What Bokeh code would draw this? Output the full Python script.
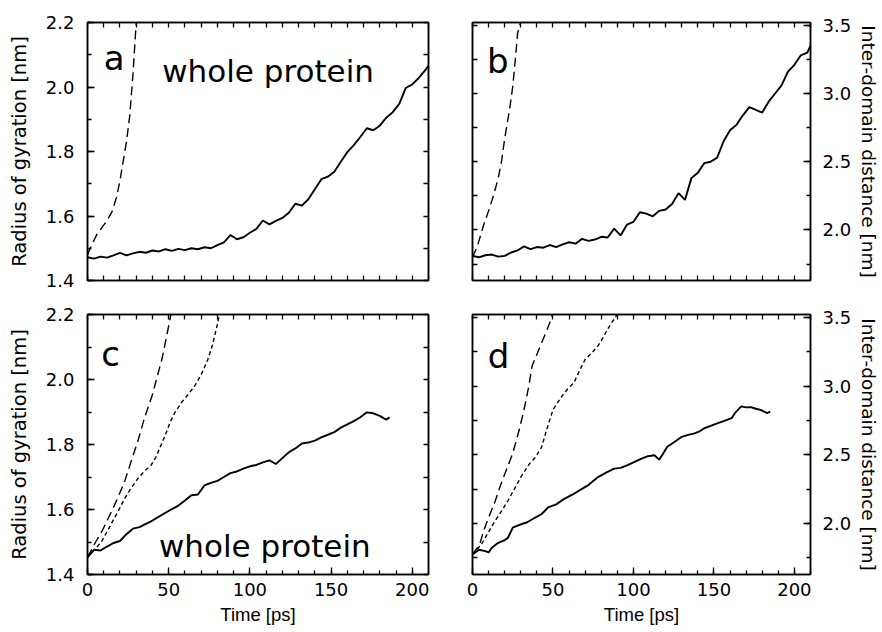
from bokeh.plotting import figure
from bokeh.models import Range1d, LinearAxis, FixedTicker, Label, PrintfTickFormatter
from bokeh.layouts import gridplot
from bokeh.embed import file_html
from bokeh.resources import INLINE

# ---------------- data ----------------
# panel a: radius of gyration (whole protein)
a_solid_t = [0, 4, 8, 12, 16, 20, 24, 28, 32, 36, 40, 44, 48, 52, 56, 60, 64, 68, 72, 76, 80, 84, 88, 92, 96,
             100, 104, 108, 112, 116, 120, 124, 128, 132, 136, 140, 144, 148, 152, 156, 160, 164, 168, 172, 176,
             180, 184, 188, 192, 196, 200, 204, 208, 210]
a_solid_y = [1.472, 1.468, 1.474, 1.471, 1.478, 1.486, 1.478, 1.484, 1.489, 1.486, 1.493, 1.490, 1.497, 1.492,
             1.498, 1.494, 1.500, 1.497, 1.503, 1.500, 1.510, 1.518, 1.541, 1.528, 1.534, 1.548, 1.560, 1.586,
             1.574, 1.585, 1.594, 1.610, 1.638, 1.632, 1.652, 1.683, 1.714, 1.722, 1.737, 1.768, 1.798, 1.820,
             1.845, 1.872, 1.866, 1.880, 1.905, 1.922, 1.948, 1.997, 2.008, 2.028, 2.052, 2.066]
a_dash_t = [0, 3, 6, 9, 12, 15, 18, 20, 22, 24, 26, 28, 30, 31]
a_dash_y = [1.48, 1.515, 1.545, 1.565, 1.586, 1.612, 1.66, 1.71, 1.77, 1.83, 1.91, 2.04, 2.20, 2.26]

# panel b: inter-domain distance
b_solid_t = [0, 4, 8, 12, 16, 20, 24, 28, 32, 36, 40, 44, 48, 52, 56, 60, 64, 68, 72, 76, 80, 84, 88, 92, 96,
             100, 104, 108, 112, 116, 120, 124, 128, 132, 136, 140, 144, 148, 152, 156, 160, 164, 168, 172, 176,
             180, 184, 188, 192, 196, 200, 204, 208, 210]
b_solid_y = [1.81, 1.80, 1.815, 1.82, 1.805, 1.81, 1.835, 1.85, 1.88, 1.86, 1.875, 1.87, 1.89, 1.875, 1.895,
             1.91, 1.90, 1.935, 1.92, 1.93, 1.95, 1.945, 2.01, 1.96, 2.04, 2.06, 2.13, 2.12, 2.10, 2.14, 2.15,
             2.19, 2.27, 2.22, 2.38, 2.42, 2.49, 2.50, 2.53, 2.65, 2.73, 2.77, 2.84, 2.90, 2.88, 2.86, 2.94,
             3.00, 3.06, 3.16, 3.21, 3.28, 3.30, 3.35]
b_dash_t = [0, 3, 7, 10, 13, 16, 18, 20, 23, 25, 27, 28, 30]
b_dash_y = [1.80, 1.88, 2.04, 2.14, 2.25, 2.38, 2.50, 2.67, 2.88, 3.05, 3.30, 3.44, 3.53]

# panel c: radius of gyration
c_solid_t = [0, 4, 8, 12, 16, 20, 24, 28, 32, 36, 40, 44, 48, 52, 56, 60, 64, 68, 72, 76, 80, 84, 88, 92, 96,
             100, 104, 108, 112, 116, 120, 124, 128, 132, 136, 140, 144, 148, 152, 156, 160, 164, 168, 172, 176,
             180, 184, 186]
c_solid_y = [1.453, 1.476, 1.474, 1.486, 1.497, 1.503, 1.524, 1.541, 1.546, 1.556, 1.566, 1.578, 1.590, 1.601,
             1.612, 1.628, 1.644, 1.646, 1.674, 1.682, 1.688, 1.700, 1.712, 1.717, 1.726, 1.733, 1.737, 1.745,
             1.751, 1.740, 1.758, 1.776, 1.788, 1.803, 1.806, 1.812, 1.822, 1.830, 1.838, 1.852, 1.862, 1.872,
             1.884, 1.899, 1.896, 1.888, 1.876, 1.884]
c_long_t = [0, 5, 9, 15, 19, 23, 27, 31, 35, 40, 43, 46, 49, 51, 52]
c_long_y = [1.453, 1.50, 1.534, 1.596, 1.64, 1.688, 1.75, 1.81, 1.88, 1.954, 2.01, 2.066, 2.14, 2.19, 2.22]
c_short_t = [0, 5, 9, 14, 19, 23, 27, 31, 35, 39, 42, 45, 48, 51, 54, 58, 62, 66, 70, 74, 77, 80, 82]
c_short_y = [1.453, 1.48, 1.504, 1.55, 1.596, 1.635, 1.667, 1.695, 1.718, 1.735, 1.76, 1.795, 1.83, 1.87, 1.90,
             1.93, 1.954, 1.98, 2.015, 2.06, 2.107, 2.17, 2.22]

# panel d: inter-domain distance
d_solid_t = [0, 4, 8, 10, 12, 16, 20, 22, 25, 28, 30, 34, 39, 43, 47, 52, 57, 62, 68, 72, 78, 83, 88, 92, 96,
             100, 105, 109, 113, 116, 118, 121, 125, 130, 134, 138, 141, 144, 148, 152, 156, 161, 163, 167, 170,
             173, 176, 179, 183, 185]
d_solid_y = [1.775, 1.81, 1.80, 1.79, 1.824, 1.86, 1.88, 1.897, 1.97, 1.985, 1.995, 2.01, 2.044, 2.07, 2.118,
             2.14, 2.18, 2.21, 2.252, 2.28, 2.338, 2.37, 2.40, 2.405, 2.423, 2.445, 2.472, 2.49, 2.497, 2.465,
             2.50, 2.558, 2.59, 2.631, 2.645, 2.656, 2.67, 2.693, 2.71, 2.729, 2.745, 2.766, 2.803, 2.852, 2.845,
             2.847, 2.835, 2.827, 2.803, 2.815]
d_long_t = [0, 4.5, 7, 10, 14, 17, 21, 25, 29, 32, 35, 37, 40, 43, 46, 49, 50]
d_long_y = [1.775, 1.85, 1.95, 2.044, 2.16, 2.265, 2.39, 2.51, 2.68, 2.827, 3.0, 3.145, 3.23, 3.317, 3.40,
            3.49, 3.54]
d_short_t = [0, 5.6, 10, 14, 18, 22, 26, 30, 35.5, 39, 43, 46, 50, 54, 57, 60, 63, 66, 70, 74, 78, 81, 84, 87,
             89, 90]
d_short_y = [1.775, 1.85, 1.94, 2.02, 2.09, 2.166, 2.25, 2.338, 2.436, 2.48, 2.558, 2.68, 2.827, 2.90, 2.95,
             2.99, 3.023, 3.10, 3.194, 3.24, 3.292, 3.35, 3.414, 3.47, 3.50, 3.54]

# ticks
x_major = [0, 50, 100, 150, 200]
x_minor = [0, 10, 20, 30, 40, 50, 60, 70, 80, 90, 100, 110, 120, 130, 140, 150, 160, 170, 180, 190, 200, 210]
rg_major = [1.4, 1.6, 1.8, 2.0, 2.2]
rg_minor = [1.4, 1.5, 1.6, 1.7, 1.8, 1.9, 2.0, 2.1, 2.2]
dist_major = [2.0, 2.5, 3.0, 3.5]
dist_minor = [1.75, 2.0, 2.25, 2.5, 2.75, 3.0, 3.25, 3.5]

x_label = "Time [ps]"
rg_label = "Radius of gyration [nm]"
dist_label = "Inter-domain distance [nm]"
region_text = "whole protein"

X_RANGE = (0, 210)
RG_RANGE = (1.4, 2.2)
DIST_RANGE = (1.63, 3.52)

FONT = "DejaVu Sans"


def base_axis(ax):
    ax.major_tick_out = 0
    ax.minor_tick_out = 0
    ax.axis_line_width = 1.5
    ax.axis_line_color = "black"
    ax.major_tick_line_width = 1.3
    ax.minor_tick_line_width = 1.3
    ax.axis_label_text_font = FONT
    ax.axis_label_text_font_style = "normal"
    ax.axis_label_text_color = "black"


def labelled_axis(ax, ticks, minor, standoff):
    base_axis(ax)
    ax.ticker = FixedTicker(ticks=ticks, minor_ticks=minor)
    ax.formatter = PrintfTickFormatter(format="%d" if ticks is x_major else "%.1f")
    ax.major_tick_in = 7
    ax.minor_tick_in = 4
    ax.major_label_text_font = FONT
    ax.major_label_text_font_size = "18px"
    ax.major_label_text_color = "black"
    ax.major_label_standoff = standoff


def bare_axis(ax, minor):
    # ticks only, no labels: every tick drawn as a minor tick
    base_axis(ax)
    ax.ticker = FixedTicker(ticks=[], minor_ticks=minor)
    ax.minor_tick_in = 5
    ax.major_label_standoff = 0


def make_fig(w, h, yr, borders, right_side, xlabels):
    left, right, top, bottom = borders
    p = figure(width=w, height=h, x_range=Range1d(*X_RANGE), y_range=Range1d(*yr),
               output_backend="svg", toolbar_location=None,
               y_axis_location="right" if right_side else "left",
               min_border_left=left, min_border_right=right,
               min_border_top=top, min_border_bottom=bottom)
    p.xgrid.visible = False
    p.ygrid.visible = False
    p.outline_line_color = "black"
    p.outline_line_width = 1.5
    p.background_fill_color = "white"
    p.border_fill_color = "white"

    ymaj, ymin = (dist_major, dist_minor) if right_side else (rg_major, rg_minor)
    # main x axis
    if xlabels:
        labelled_axis(p.xaxis[0], x_major, x_minor, 8)
        p.xaxis[0].axis_label = x_label
        p.xaxis[0].axis_label_text_font = "Liberation Sans"
        p.xaxis[0].axis_label_text_font_size = "18.5px"
        p.xaxis[0].axis_label_standoff = 5
    else:
        bare_axis(p.xaxis[0], x_minor)
    # main y axis
    labelled_axis(p.yaxis[0], ymaj, ymin, 12 if right_side else 13)
    if right_side:
        p.yaxis[0].axis_label = dist_label
        p.yaxis[0].axis_label_text_font_size = "18.5px"
        p.yaxis[0].axis_label_standoff = 4
    else:
        p.yaxis[0].axis_label = rg_label
        p.yaxis[0].axis_label_text_font_size = "19.5px"
        p.yaxis[0].axis_label_standoff = 12
    # mirror axes (ticks only)
    top_ax = LinearAxis()
    bare_axis(top_ax, x_minor)
    p.add_layout(top_ax, "above")
    other_ax = LinearAxis()
    bare_axis(other_ax, ymin)
    p.add_layout(other_ax, "left" if right_side else "right")
    return p


pa = make_fig(440, 300, RG_RANGE, (87, 12, 21, 20), False, False)
pb = make_fig(442, 300, DIST_RANGE, (32, 71, 22, 19), True, False)
pc = make_fig(440, 331, RG_RANGE, (87, 12, 13, 57), False, True)
pd = make_fig(442, 331, DIST_RANGE, (31, 71, 14, 57), True, True)

LW = 1.9
pa.line(a_solid_t, a_solid_y, line_color="black", line_width=LW)
pa.line(a_dash_t, a_dash_y, line_color="black", line_width=1.4, line_dash="9 5")
pb.line(b_solid_t, b_solid_y, line_color="black", line_width=LW)
pb.line(b_dash_t, b_dash_y, line_color="black", line_width=1.4, line_dash="9 5")
pc.line(c_solid_t, c_solid_y, line_color="black", line_width=LW)
pc.line(c_long_t, c_long_y, line_color="black", line_width=1.4, line_dash="9 5")
pc.line(c_short_t, c_short_y, line_color="black", line_width=1.4, line_dash="4 3")
pd.line(d_solid_t, d_solid_y, line_color="black", line_width=LW)
pd.line(d_long_t, d_long_y, line_color="black", line_width=1.4, line_dash="9 5")
pd.line(d_short_t, d_short_y, line_color="black", line_width=1.4, line_dash="4 3")


def add_text(p, x, y, txt, size):
    p.add_layout(Label(x=x, y=y, text=txt, text_font=FONT, text_font_size=size,
                       text_color="black", text_baseline="alphabetic", text_align="left"))


add_text(pa, 10, 2.09, "a", "34px")
add_text(pb, 9, 3.24, "b", "34px")
add_text(pc, 8.5, 2.08, "c", "34px")
add_text(pd, 9.5, 3.215, "d", "34px")
add_text(pa, 46, 2.05, region_text, "31px")
add_text(pc, 44, 1.488, region_text, "31px")

grid = gridplot([[pa, pb], [pc, pd]], toolbar_location=None)
open("out.html", "w").write(file_html(grid, INLINE))
